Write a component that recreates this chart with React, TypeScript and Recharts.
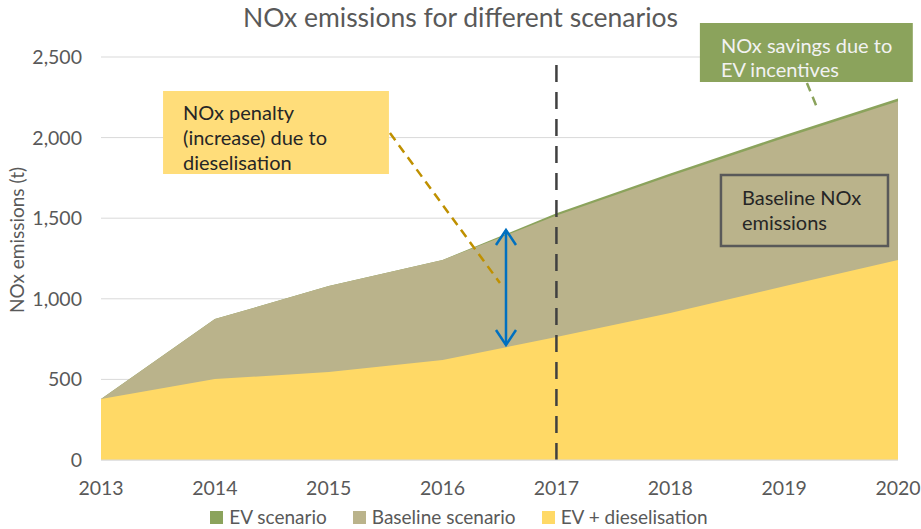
import React from "react";
import {
  AreaChart,
  Area,
  XAxis,
  YAxis,
  CartesianGrid,
  Legend,
  ReferenceArea,
  ReferenceLine,
} from "recharts";

const years = [2013, 2014, 2015, 2016, 2017, 2018, 2019, 2020];
const evScenario = [378, 874, 1079, 1241, 1530, 1778, 2014, 2242];
const baselineScenario = [378, 874, 1079, 1241, 1516, 1762, 1998, 2226];
const evDieselisation = [378, 502, 546, 620, 763, 912, 1078, 1241];
const yTicks = [0, 500, 1000, 1500, 2000, 2500];

const seriesInfo = [
  { key: "ev", name: "EV scenario", color: "#8BA35C" },
  { key: "baseline", name: "Baseline scenario", color: "#BAB38B" },
  { key: "diesel", name: "EV + dieselisation", color: "#FFD966" },
];

const data = years.map((year, i) => ({
  year,
  ev: evScenario[i],
  baseline: baselineScenario[i],
  diesel: evDieselisation[i],
}));

const FONT = "Lato, 'Noto Sans', sans-serif";

function boxText(lines: string[], color: string, padX: number, first: number, lh: number) {
  return (props: any) => {
    const { x, y } = props.viewBox;
    return (
      <text fill={color} fontSize={20} fontFamily={FONT}>
        {lines.map((l, i) => (
          <tspan key={i} x={x + padX} y={y + first + i * lh}>
            {l}
          </tspan>
        ))}
      </text>
    );
  };
}

const DoubleArrow = (props: any) => {
  const { x1, y1, y2 } = props;
  const top = Math.min(y1, y2);
  const bottom = Math.max(y1, y2);
  return (
    <g stroke="#0070C0" strokeWidth={2.5} fill="none">
      <line x1={x1} y1={top} x2={x1} y2={bottom} />
      <polyline points={`${x1 - 10},${top + 15} ${x1},${top} ${x1 + 10},${top + 15}`} />
      <polyline points={`${x1 - 10},${bottom - 15} ${x1},${bottom} ${x1 + 10},${bottom - 15}`} />
    </g>
  );
};

const renderLegend = () => (
  <div
    style={{
      display: "flex",
      justifyContent: "center",
      gap: 26,
      paddingTop: 19,
      paddingLeft: 20,
      fontFamily: FONT,
      fontSize: 19,
      color: "#595959",
      lineHeight: "16px",
    }}
  >
    {seriesInfo.map((s) => (
      <div key={s.key} style={{ display: "flex", alignItems: "center" }}>
        <span style={{ width: 13, height: 13, background: s.color, marginRight: 6, display: "inline-block" }} />
        <span>{s.name}</span>
      </div>
    ))}
  </div>
);

const YLabel = () => {
  const cx = 16;
  const cy = 240;
  return (
    <text
      x={cx}
      y={cy}
      transform={`rotate(-90, ${cx}, ${cy})`}
      textAnchor="middle"
      dominantBaseline="central"
      fill="#595959"
      fontSize={19}
      fontFamily={FONT}
    >
      NOx emissions (t)
    </text>
  );
};

export default function App() {
  return (
    <div style={{ position: "absolute", left: 0, top: 0, width: 921, height: 529, background: "#fff" }}>
      <div
        style={{
          position: "absolute",
          top: 1,
          left: 0,
          width: 921,
          textAlign: "center",
          fontFamily: FONT,
          fontSize: 26.5,
          color: "#595959",
        }}
      >
        NOx emissions for different scenarios
      </div>
      <AreaChart
        width={921}
        height={529}
        data={data}
        margin={{ top: 57, right: 23, bottom: 3, left: 0 }}
      >
        <CartesianGrid vertical={false} stroke="#D9D9D9" />
        <XAxis
          dataKey="year"
          type="number"
          domain={[2013, 2020]}
          ticks={years}
          height={30}
          tickLine={false}
          axisLine={{ stroke: "#D9D9D9" }}
          tickMargin={15}
          tick={{ fill: "#595959", fontSize: 19.5, fontFamily: FONT }}
        />
        <YAxis
          domain={[0, 2500]}
          ticks={yTicks}
          width={101}
          tickSize={0}
          tickMargin={19}
          axisLine={false}
          tickFormatter={(v: number) => v.toLocaleString("en-US")}
          tick={{ fill: "#595959", fontSize: 19.5, fontFamily: FONT }}
          label={<YLabel />}
        />
        {seriesInfo.map((s) => (
          <Area
            key={s.key}
            type="linear"
            dataKey={s.key}
            name={s.name}
            fill={s.color}
            fillOpacity={1}
            stroke="none"
            isAnimationActive={false}
          />
        ))}
        <ReferenceLine x={2017} stroke="#404040" strokeWidth={2.5} strokeDasharray="17 10" />
        <ReferenceLine
          segment={[{ x: 2015.538, y: 2028 }, { x: 2016.504, y: 1098 }]}
          stroke="#BF9000"
          strokeWidth={2.5}
          strokeDasharray="9 6"
        />
        <ReferenceLine
          segment={[{ x: 2016.557, y: 713 }, { x: 2016.557, y: 1427 }]}
          shape={DoubleArrow}
        />
        <ReferenceLine
          segment={[{ x: 2019.2, y: 2339 }, { x: 2019.29, y: 2184 }]}
          stroke="#8BA35C"
          strokeWidth={2.5}
          strokeDasharray="9 6"
          ifOverflow="visible"
        />
        <ReferenceArea
          x1={2013.545}
          x2={2015.529}
          y1={1774}
          y2={2289}
          fill="#FFDD7A"
          fillOpacity={1}
          stroke="none"
          ifOverflow="visible"
          label={boxText(["NOx penalty", "(increase) due to", "dieselisation"], "#262626", 20, 29, 25)}
        />
        <ReferenceArea
          x1={2018.26}
          x2={2020.13}
          y1={2345}
          y2={2711}
          fill="#8BA35C"
          fillOpacity={1}
          stroke="none"
          ifOverflow="visible"
          label={boxText(["NOx savings due to", "EV incentives"], "#F2F2F2", 21, 30, 24)}
        />
        <ReferenceArea
          x1={2018.445}
          x2={2019.912}
          y1={1328}
          y2={1768}
          fill="none"
          stroke="#595959"
          strokeWidth={2.5}
          ifOverflow="visible"
          label={boxText(["Baseline NOx", "emissions"], "#262626", 21, 30, 25)}
        />
        <Legend verticalAlign="bottom" height={36} content={renderLegend} />
      </AreaChart>
    </div>
  );
}
